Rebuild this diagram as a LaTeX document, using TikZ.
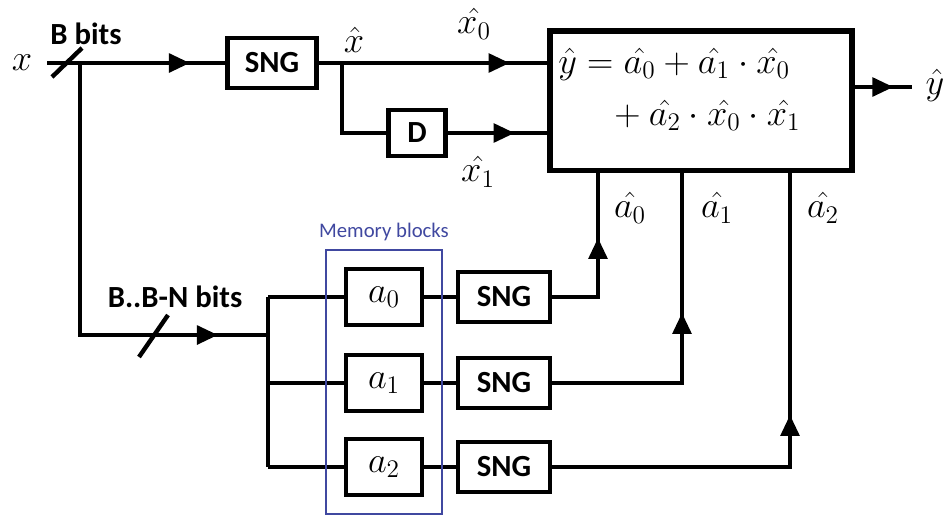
\documentclass[tikz,border=0pt]{standalone}
\usepackage{fontspec}
\newfontfamily\calib{Carlito}
\usetikzlibrary{decorations.markings,arrows.meta,fit,positioning}
\definecolor{memblue}{RGB}{64,72,160}

\begin{document}
\begin{tikzpicture}[x=0.02cm, y=-0.02cm,
		wire/.style={line width=2.5pt},
		arrowat/.style={postaction={decorate}, decoration={markings, mark=at position #1*0.02cm with {\arrow{Triangle[length=12pt,width=10.5pt]}}}},
		blk/.style={draw, line width=2.5pt, inner sep=0pt, font=\calib\bfseries\fontsize{17.5}{20}\selectfont},
		sngblk/.style={blk, minimum width=1.84cm, minimum height=1cm},
		coefblk/.style={blk, minimum width=1.52cm, minimum height=1.12cm, font=\fontsize{22}{26}\selectfont},
		mlbl/.style={font=\fontsize{22}{26}\selectfont, inner sep=0pt},
		tag/.style={font=\calib\bfseries\fontsize{17.5}{20}\selectfont, inner sep=0pt}]
		\useasboundingbox (0,0) rectangle (947,515);

		\node [mlbl] (xin) at (22,63) {$x$};
		\coordinate (xstart) at (47,63);
		\coordinate (split) at (80,63);
		\coordinate (tap) at (342,63);
		\coordinate (bus) at (268,335);
		\coordinate (yout) at (912,87);

		\node [sngblk, minimum width=1.78cm] (sng) at (272,63) {SNG};
		\node [blk, minimum width=1.14cm, minimum height=0.92cm] (dly) at (417,133) {D};
		\node [draw, line width=3.4pt, minimum width=6.06cm, minimum height=2.8cm] (fn) at (701,100.5) {};
		\node [mlbl, anchor=base west] (eqa) at (558,73) {$\hat{y} = \hat{a_0} + \hat{a_1}\cdot\hat{x_0}$};
		\node [mlbl, anchor=base west] (eqb) at (606,125) {${}+ \hat{a_2}\cdot\hat{x_0}\cdot\hat{x_1}$};

		\foreach \i/\y in {0/297,1/383,2/467} {
			\node [coefblk] (mem\i) at (384,\y) {$a_\i$};
			\node [sngblk] (gen\i) at (504,\y) {SNG};
		}
		\coordinate (t0) at (598,170.5);
		\coordinate (t1) at (682,170.5);
		\coordinate (t2) at (790,170.5);

		% upper path
		\draw [wire, arrowat=143] (xstart) -- (sng.west);
		\draw [wire, arrowat=191] (sng.east) -- (sng -| fn.west);
		\draw [wire] (tap) |- (dly.west);
		\draw [wire, arrowat=67] (dly.east) -- (dly -| fn.west);
		\draw [wire, arrowat=38] (yout -| fn.east) -- (yout);
		\draw [wire] (52,77) -- (82,48);

		% coefficient path
		\draw [wire, arrowat=410] (split) |- (bus);
		\draw [wire] (139,357) -- (168,315);
		\draw [wire] (bus |- mem0) -- (bus |- mem2);
		\foreach \i in {0,1,2} {
			\draw [wire] (bus |- mem\i) -- (mem\i.west);
			\draw [wire] (mem\i.east) -- (gen\i.west);
		}
		\draw [wire, arrowat=105] (gen0.east) -| (t0);
		\draw [wire, arrowat=200] (gen1.east) -| (t1);
		\draw [wire, arrowat=290] (gen2.east) -| (t2);

		\node [draw=memblue, line width=1.2pt, fit=(mem0)(mem2), inner xsep=0.35cm, inner ysep=0.33cm] (memgrp) {};
		\node [above=1pt of memgrp, text=memblue, font=\calib\fontsize{11.8}{14}\selectfont] (memlbl) {Memory blocks};

		\node [tag] (bbits) at (86,34) {B bits};
		\node [tag] (nbits) at (175,297) {B..B-N bits};
		\node [mlbl] (xh) at (354,40) {$\hat{x}$};
		\node [mlbl] (xh0) at (474,24) {$\hat{x_0}$};
		\node [mlbl] (xh1) at (478,172) {$\hat{x_1}$};
		\node [mlbl] (yh) at (935,85) {$\hat{y}$};
		\node [mlbl] (ah0) at (630,208) {$\hat{a_0}$};
		\node [mlbl] (ah1) at (717,208) {$\hat{a_1}$};
		\node [mlbl] (ah2) at (823,208) {$\hat{a_2}$};
	\end{tikzpicture}
\end{document}
